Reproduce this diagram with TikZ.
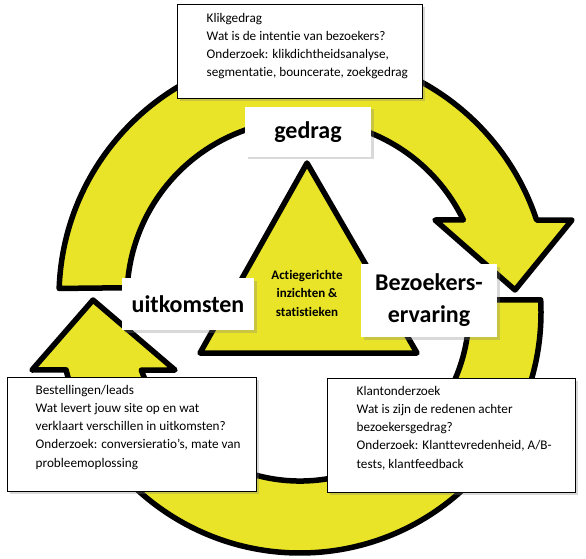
\documentclass[tikz,border=0pt]{standalone}
\usepackage{fontspec}
\setmainfont[Ligatures=NoCommon]{Carlito}
\usetikzlibrary{shadows}
\definecolor{geel}{RGB}{233,228,39}
\begin{document}
\begin{tikzpicture}[x=1pt,y=1pt,
  pijl/.style={draw=black,fill=geel,line width=5.5pt,line join=round},
  schaduw/.style={drop shadow={shadow xshift=2.5pt,shadow yshift=-2.5pt,opacity=0.3}},
  kop/.style={schaduw,fill=white,inner sep=0pt,align=center,font=\bfseries\fontsize{24}{32}\selectfont},
  kader/.style={schaduw,draw=black,line width=1pt,fill=white,inner sep=0pt},
  uitleg/.style={anchor=north west,inner sep=0pt,align=left,font=\fontsize{13.2}{18.2}\selectfont}]
\useasboundingbox (0,0) rectangle (586,558);
% bovenste pijl: van links over de top naar rechts
\begin{scope}[shift={(304,261)}]
\draw[pijl] (178:245) arc[start angle=178,end angle=18.3,radius=245]
  -- (268,77) -- (211,7) -- (131,77)
  -- (25.8:177) arc[start angle=25.8,end angle=177,radius=177] -- cycle;
\end{scope}
% onderste pijl: van rechts onderlangs naar links
\begin{scope}[shift={(300,246)}]
\draw[pijl] (2.9:241) arc[start angle=2.9,end angle=-166.1,radius=241]
  -- (-268,-58) -- (-207,12) -- (-125,-58)
  -- (-159.9:169) arc[start angle=-159.9,end angle=4.1,radius=169] -- cycle;
\end{scope}
% driehoek in het midden
\draw[pijl] (307,395) -- (417,205) -- (200,205) -- cycle;
\node[align=center,font=\bfseries\fontsize{13}{18.5}\selectfont] (inzicht) at (307,265)
  {Actiegerichte\\inzichten \&\\statistieken};
% koppen
\node[kop,minimum width=126,minimum height=50] (gedrag) at (308,426) {gedrag};
\node[kop,minimum width=132,minimum height=52] (uitkomsten) at (188,254) {uitkomsten};
\node[kop,minimum width=136,minimum height=73] (ervaring) at (429,257.5) {Bezoekers-\\ervaring};
% uitlegkaders
\node[kader,minimum width=245,minimum height=94] (klikvak) at (299.5,506) {};
\node[uitleg] (kliktekst) at ([xshift=30,yshift=-8.5]klikvak.north west)
  {Klikgedrag\\Wat is de intentie van bezoekers?\\Onderzoek: klikdichtheidsanalyse,\\segmentatie, bouncerate, zoekgedrag};
\node[kader,minimum width=249,minimum height=114] (bestelvak) at (131.5,124) {};
\node[uitleg] (besteltekst) at ([xshift=29,yshift=-8.5]bestelvak.north west)
  {Bestellingen/leads\\Wat levert jouw site op en wat\\verklaart verschillen in uitkomsten?\\Onderzoek: conversieratio’s, mate van\\probleemoplossing};
\node[kader,minimum width=248,minimum height=114] (klantvak) at (451,123) {};
\node[uitleg] (klanttekst) at ([xshift=30,yshift=-8.5]klantvak.north west)
  {Klantonderzoek\\Wat is zijn de redenen achter\\bezoekersgedrag?\\Onderzoek: Klanttevredenheid, A/B-\\tests, klantfeedback};
\end{tikzpicture}
\end{document}
